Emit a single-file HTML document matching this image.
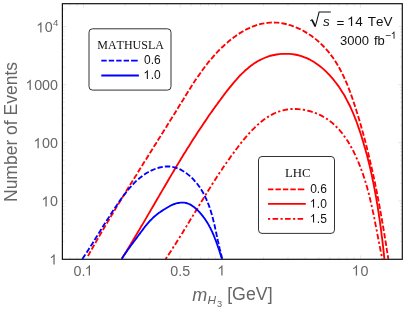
<!DOCTYPE html>
<html><head><meta charset="utf-8"><title>plot</title>
<style>
html,body{margin:0;padding:0;background:#fff;}
body{width:407px;height:309px;overflow:hidden;}
svg{display:block;will-change:transform;}
text{font-family:"Liberation Sans",sans-serif;font-kerning:none;}
.ser{font-family:"Liberation Serif",serif;}
.g{fill:#666;}
.k{fill:#111;}
</style></head><body>
<svg width="407" height="309" viewBox="0 0 407 309">
<rect width="407" height="309" fill="#fff"/>
<g stroke="#d9d9d9" stroke-width="0.6" fill="none">
<line x1="83.4" y1="259.3" x2="83.4" y2="255.3"/>
<line x1="83.4" y1="3.7" x2="83.4" y2="7.7"/>
<line x1="180.2" y1="259.3" x2="180.2" y2="255.3"/>
<line x1="180.2" y1="3.7" x2="180.2" y2="7.7"/>
<line x1="221.9" y1="259.3" x2="221.9" y2="255.3"/>
<line x1="221.9" y1="3.7" x2="221.9" y2="7.7"/>
<line x1="360.4" y1="259.3" x2="360.4" y2="255.3"/>
<line x1="360.4" y1="3.7" x2="360.4" y2="7.7"/>
<line x1="125.1" y1="259.3" x2="125.1" y2="256.90000000000003"/>
<line x1="125.1" y1="3.7" x2="125.1" y2="6.1"/>
<line x1="149.5" y1="259.3" x2="149.5" y2="256.90000000000003"/>
<line x1="149.5" y1="3.7" x2="149.5" y2="6.1"/>
<line x1="166.8" y1="259.3" x2="166.8" y2="256.90000000000003"/>
<line x1="166.8" y1="3.7" x2="166.8" y2="6.1"/>
<line x1="191.2" y1="259.3" x2="191.2" y2="256.90000000000003"/>
<line x1="191.2" y1="3.7" x2="191.2" y2="6.1"/>
<line x1="200.4" y1="259.3" x2="200.4" y2="256.90000000000003"/>
<line x1="200.4" y1="3.7" x2="200.4" y2="6.1"/>
<line x1="208.5" y1="259.3" x2="208.5" y2="256.90000000000003"/>
<line x1="208.5" y1="3.7" x2="208.5" y2="6.1"/>
<line x1="215.6" y1="259.3" x2="215.6" y2="256.90000000000003"/>
<line x1="215.6" y1="3.7" x2="215.6" y2="6.1"/>
<line x1="263.6" y1="259.3" x2="263.6" y2="256.90000000000003"/>
<line x1="263.6" y1="3.7" x2="263.6" y2="6.1"/>
<line x1="288.0" y1="259.3" x2="288.0" y2="256.90000000000003"/>
<line x1="288.0" y1="3.7" x2="288.0" y2="6.1"/>
<line x1="305.3" y1="259.3" x2="305.3" y2="256.90000000000003"/>
<line x1="305.3" y1="3.7" x2="305.3" y2="6.1"/>
<line x1="318.7" y1="259.3" x2="318.7" y2="256.90000000000003"/>
<line x1="318.7" y1="3.7" x2="318.7" y2="6.1"/>
<line x1="329.7" y1="259.3" x2="329.7" y2="256.90000000000003"/>
<line x1="329.7" y1="3.7" x2="329.7" y2="6.1"/>
<line x1="338.9" y1="259.3" x2="338.9" y2="256.90000000000003"/>
<line x1="338.9" y1="3.7" x2="338.9" y2="6.1"/>
<line x1="347.0" y1="259.3" x2="347.0" y2="256.90000000000003"/>
<line x1="347.0" y1="3.7" x2="347.0" y2="6.1"/>
<line x1="354.1" y1="259.3" x2="354.1" y2="256.90000000000003"/>
<line x1="354.1" y1="3.7" x2="354.1" y2="6.1"/>
<line x1="70.0" y1="259.3" x2="70.0" y2="256.90000000000003"/>
<line x1="70.0" y1="3.7" x2="70.0" y2="6.1"/>
<line x1="77.1" y1="259.3" x2="77.1" y2="256.90000000000003"/>
<line x1="77.1" y1="3.7" x2="77.1" y2="6.1"/>
<line x1="62.4" y1="241.5" x2="64.8" y2="241.5"/>
<line x1="402.3" y1="241.5" x2="399.90000000000003" y2="241.5"/>
<line x1="62.4" y1="231.3" x2="64.8" y2="231.3"/>
<line x1="402.3" y1="231.3" x2="399.90000000000003" y2="231.3"/>
<line x1="62.4" y1="224.0" x2="64.8" y2="224.0"/>
<line x1="402.3" y1="224.0" x2="399.90000000000003" y2="224.0"/>
<line x1="62.4" y1="218.4" x2="64.8" y2="218.4"/>
<line x1="402.3" y1="218.4" x2="399.90000000000003" y2="218.4"/>
<line x1="62.4" y1="213.8" x2="64.8" y2="213.8"/>
<line x1="402.3" y1="213.8" x2="399.90000000000003" y2="213.8"/>
<line x1="62.4" y1="209.9" x2="64.8" y2="209.9"/>
<line x1="402.3" y1="209.9" x2="399.90000000000003" y2="209.9"/>
<line x1="62.4" y1="206.5" x2="64.8" y2="206.5"/>
<line x1="402.3" y1="206.5" x2="399.90000000000003" y2="206.5"/>
<line x1="62.4" y1="203.5" x2="64.8" y2="203.5"/>
<line x1="402.3" y1="203.5" x2="399.90000000000003" y2="203.5"/>
<line x1="62.4" y1="200.8" x2="66.4" y2="200.8"/>
<line x1="402.3" y1="200.8" x2="398.3" y2="200.8"/>
<line x1="62.4" y1="183.3" x2="64.8" y2="183.3"/>
<line x1="402.3" y1="183.3" x2="399.90000000000003" y2="183.3"/>
<line x1="62.4" y1="173.1" x2="64.8" y2="173.1"/>
<line x1="402.3" y1="173.1" x2="399.90000000000003" y2="173.1"/>
<line x1="62.4" y1="165.8" x2="64.8" y2="165.8"/>
<line x1="402.3" y1="165.8" x2="399.90000000000003" y2="165.8"/>
<line x1="62.4" y1="160.2" x2="64.8" y2="160.2"/>
<line x1="402.3" y1="160.2" x2="399.90000000000003" y2="160.2"/>
<line x1="62.4" y1="155.6" x2="64.8" y2="155.6"/>
<line x1="402.3" y1="155.6" x2="399.90000000000003" y2="155.6"/>
<line x1="62.4" y1="151.7" x2="64.8" y2="151.7"/>
<line x1="402.3" y1="151.7" x2="399.90000000000003" y2="151.7"/>
<line x1="62.4" y1="148.3" x2="64.8" y2="148.3"/>
<line x1="402.3" y1="148.3" x2="399.90000000000003" y2="148.3"/>
<line x1="62.4" y1="145.4" x2="64.8" y2="145.4"/>
<line x1="402.3" y1="145.4" x2="399.90000000000003" y2="145.4"/>
<line x1="62.4" y1="142.7" x2="66.4" y2="142.7"/>
<line x1="402.3" y1="142.7" x2="398.3" y2="142.7"/>
<line x1="62.4" y1="125.2" x2="64.8" y2="125.2"/>
<line x1="402.3" y1="125.2" x2="399.90000000000003" y2="125.2"/>
<line x1="62.4" y1="115.0" x2="64.8" y2="115.0"/>
<line x1="402.3" y1="115.0" x2="399.90000000000003" y2="115.0"/>
<line x1="62.4" y1="107.7" x2="64.8" y2="107.7"/>
<line x1="402.3" y1="107.7" x2="399.90000000000003" y2="107.7"/>
<line x1="62.4" y1="102.1" x2="64.8" y2="102.1"/>
<line x1="402.3" y1="102.1" x2="399.90000000000003" y2="102.1"/>
<line x1="62.4" y1="97.5" x2="64.8" y2="97.5"/>
<line x1="402.3" y1="97.5" x2="399.90000000000003" y2="97.5"/>
<line x1="62.4" y1="93.6" x2="64.8" y2="93.6"/>
<line x1="402.3" y1="93.6" x2="399.90000000000003" y2="93.6"/>
<line x1="62.4" y1="90.2" x2="64.8" y2="90.2"/>
<line x1="402.3" y1="90.2" x2="399.90000000000003" y2="90.2"/>
<line x1="62.4" y1="87.2" x2="64.8" y2="87.2"/>
<line x1="402.3" y1="87.2" x2="399.90000000000003" y2="87.2"/>
<line x1="62.4" y1="84.6" x2="66.4" y2="84.6"/>
<line x1="402.3" y1="84.6" x2="398.3" y2="84.6"/>
<line x1="62.4" y1="67.0" x2="64.8" y2="67.0"/>
<line x1="402.3" y1="67.0" x2="399.90000000000003" y2="67.0"/>
<line x1="62.4" y1="56.8" x2="64.8" y2="56.8"/>
<line x1="402.3" y1="56.8" x2="399.90000000000003" y2="56.8"/>
<line x1="62.4" y1="49.5" x2="64.8" y2="49.5"/>
<line x1="402.3" y1="49.5" x2="399.90000000000003" y2="49.5"/>
<line x1="62.4" y1="43.9" x2="64.8" y2="43.9"/>
<line x1="402.3" y1="43.9" x2="399.90000000000003" y2="43.9"/>
<line x1="62.4" y1="39.3" x2="64.8" y2="39.3"/>
<line x1="402.3" y1="39.3" x2="399.90000000000003" y2="39.3"/>
<line x1="62.4" y1="35.4" x2="64.8" y2="35.4"/>
<line x1="402.3" y1="35.4" x2="399.90000000000003" y2="35.4"/>
<line x1="62.4" y1="32.0" x2="64.8" y2="32.0"/>
<line x1="402.3" y1="32.0" x2="399.90000000000003" y2="32.0"/>
<line x1="62.4" y1="29.1" x2="64.8" y2="29.1"/>
<line x1="402.3" y1="29.1" x2="399.90000000000003" y2="29.1"/>
<line x1="62.4" y1="26.4" x2="66.4" y2="26.4"/>
<line x1="402.3" y1="26.4" x2="398.3" y2="26.4"/>
<line x1="62.4" y1="8.9" x2="64.8" y2="8.9"/>
<line x1="402.3" y1="8.9" x2="399.90000000000003" y2="8.9"/>
</g>
<clipPath id="c"><rect x="62.4" y="3.7" width="339.90000000000003" height="255.60000000000002"/></clipPath>
<g fill="none" stroke-width="1.85" clip-path="url(#c)">
<path d="M87.9,256.0 L89.3,253.6 L90.6,251.3 L91.9,248.9 L93.3,246.6 L94.6,244.2 L96.0,241.9 L97.3,239.5 L98.7,237.2 L100.0,234.9 L101.4,232.5 L102.8,230.2 L104.1,227.9 L105.5,225.6 L106.9,223.2 L108.2,220.9 L109.6,218.6 L111.0,216.3 L112.4,214.0 L113.8,211.7 L115.1,209.4 L116.5,207.1 L117.9,204.8 L119.3,202.5 L120.7,200.2 L122.1,197.9 L123.5,195.7 L124.9,193.4 L126.3,191.1 L127.7,188.8 L129.1,186.5 L130.5,184.3 L131.9,182.0 L133.3,179.7 L134.7,177.4 L136.2,175.2 L137.6,172.9 L139.0,170.6 L140.4,168.3 L141.8,166.1 L143.2,163.8 L144.6,161.5 L146.1,159.3 L147.5,157.0 L148.9,154.7 L150.3,152.4 L151.7,150.2 L153.2,147.9 L154.6,145.6 L156.0,143.4 L157.4,141.1 L158.8,138.8 L160.3,136.5 L161.7,134.2 L163.1,132.0 L164.5,129.7 L166.0,127.4 L167.4,125.1 L168.8,122.8 L170.2,120.6 L171.6,118.3 L173.1,116.0 L174.5,113.7 L175.9,111.4 L177.3,109.1 L178.7,106.8 L180.1,104.5 L181.5,102.2 L183.0,99.9 L184.4,97.6 L185.8,95.3 L187.2,93.0 L188.7,90.7 L190.1,88.4 L191.6,86.1 L193.0,83.8 L194.5,81.6 L196.0,79.3 L197.5,77.1 L199.1,74.9 L200.6,72.7 L202.2,70.5 L203.8,68.3 L205.4,66.2 L207.0,64.0 L208.7,61.9 L210.4,59.9 L212.2,57.8 L213.9,55.8 L215.7,53.8 L217.5,51.9 L219.4,49.9 L221.3,48.0 L223.3,46.2 L225.2,44.4 L227.3,42.6 L229.3,40.8 L231.5,39.1 L233.6,37.5 L235.8,35.9 L238.1,34.3 L240.3,32.9 L242.7,31.5 L245.0,30.1 L247.4,28.9 L249.9,27.8 L252.3,26.7 L254.8,25.8 L257.3,24.9 L259.9,24.2 L262.4,23.6 L265.0,23.2 L267.6,22.8 L270.2,22.6 L272.8,22.5 L275.4,22.6 L278.0,22.7 L280.6,23.0 L283.2,23.5 L285.8,24.0 L288.3,24.7 L290.9,25.4 L293.4,26.3 L295.9,27.3 L298.3,28.3 L300.8,29.5 L303.2,30.7 L305.5,32.1 L307.8,33.5 L310.1,35.0 L312.3,36.6 L314.5,38.2 L316.6,39.9 L318.7,41.7 L320.7,43.6 L322.7,45.5 L324.5,47.4 L326.3,49.4 L328.1,51.4 L329.8,53.5 L331.4,55.6 L333.0,57.8 L334.5,60.0 L335.9,62.2 L337.3,64.5 L338.7,66.8 L340.0,69.2 L341.2,71.5 L342.4,73.9 L343.6,76.3 L344.7,78.8 L345.8,81.3 L346.9,83.7 L347.9,86.2 L348.9,88.8 L349.9,91.3 L350.8,93.9 L351.7,96.4 L352.6,99.0 L353.5,101.6 L354.3,104.1 L355.2,106.7 L356.0,109.3 L356.8,111.9 L357.6,114.5 L358.4,117.1 L359.2,119.7 L359.9,122.3 L360.7,124.8 L361.4,127.4 L362.1,130.0 L362.9,132.6 L363.6,135.2 L364.3,137.8 L365.0,140.4 L365.6,143.0 L366.3,145.6 L367.0,148.2 L367.6,150.8 L368.3,153.4 L368.9,156.0 L369.5,158.6 L370.1,161.2 L370.7,163.8 L371.3,166.4 L371.9,169.0 L372.5,171.6 L373.1,174.2 L373.6,176.8 L374.2,179.4 L374.8,182.0 L375.3,184.7 L375.8,187.3 L376.4,189.9 L376.9,192.5 L377.4,195.1 L377.9,197.8 L378.4,200.4 L378.9,203.0 L379.4,205.7 L379.9,208.3 L380.4,210.9 L380.8,213.6 L381.3,216.2 L381.8,218.9 L382.2,221.5 L382.7,224.2 L383.1,226.8 L383.6,229.5 L384.0,232.1 L384.5,234.8 L384.9,237.5 L385.3,240.1 L385.8,242.8 L386.2,245.5 L386.6,248.2 L387.0,250.8 L387.4,253.5 L387.9,256.2 L388.3,258.9" stroke="#f00" stroke-dasharray="5.4 2.1"/>
<path d="M121.8,258.7 L123.2,256.5 L124.6,254.2 L126.0,252.0 L127.4,249.7 L128.7,247.5 L130.1,245.3 L131.4,243.0 L132.8,240.8 L134.1,238.5 L135.4,236.3 L136.8,234.1 L138.1,231.8 L139.4,229.6 L140.7,227.3 L142.1,225.1 L143.4,222.9 L144.7,220.6 L146.0,218.4 L147.3,216.1 L148.6,213.9 L149.9,211.7 L151.2,209.4 L152.5,207.2 L153.8,205.0 L155.1,202.7 L156.4,200.5 L157.7,198.3 L159.0,196.1 L160.3,193.8 L161.6,191.6 L162.9,189.4 L164.2,187.2 L165.5,185.0 L166.8,182.7 L168.1,180.5 L169.4,178.3 L170.7,176.1 L172.0,173.9 L173.3,171.7 L174.6,169.5 L175.9,167.3 L177.3,165.1 L178.6,162.9 L179.9,160.7 L181.2,158.5 L182.6,156.3 L183.9,154.1 L185.3,151.9 L186.6,149.7 L188.0,147.5 L189.4,145.4 L190.7,143.2 L192.1,141.0 L193.5,138.8 L194.9,136.7 L196.3,134.5 L197.7,132.3 L199.1,130.2 L200.6,128.0 L202.0,125.9 L203.4,123.7 L204.9,121.6 L206.4,119.4 L207.8,117.3 L209.3,115.1 L210.8,113.0 L212.3,110.9 L213.8,108.7 L215.3,106.6 L216.9,104.5 L218.4,102.4 L220.0,100.3 L221.6,98.1 L223.1,96.0 L224.7,93.9 L226.3,91.8 L228.0,89.7 L229.6,87.7 L231.3,85.6 L232.9,83.6 L234.6,81.6 L236.4,79.6 L238.1,77.6 L239.9,75.7 L241.7,73.9 L243.6,72.1 L245.4,70.3 L247.4,68.7 L249.3,67.0 L251.3,65.5 L253.4,64.0 L255.5,62.6 L257.6,61.3 L259.8,60.1 L262.1,59.0 L264.4,58.0 L266.7,57.0 L269.1,56.2 L271.6,55.5 L274.1,55.0 L276.6,54.5 L279.2,54.1 L281.8,53.9 L284.4,53.8 L287.0,53.8 L289.6,53.9 L292.1,54.1 L294.7,54.5 L297.2,55.0 L299.7,55.6 L302.1,56.4 L304.5,57.3 L306.9,58.2 L309.2,59.3 L311.4,60.5 L313.6,61.8 L315.8,63.2 L317.9,64.7 L320.0,66.3 L322.0,67.9 L324.0,69.6 L325.9,71.4 L327.8,73.3 L329.6,75.2 L331.3,77.1 L333.1,79.1 L334.7,81.2 L336.3,83.3 L337.9,85.4 L339.4,87.5 L340.8,89.7 L342.2,91.9 L343.6,94.1 L344.9,96.3 L346.1,98.6 L347.3,100.9 L348.5,103.2 L349.7,105.5 L350.8,107.8 L351.8,110.2 L352.9,112.6 L353.9,115.0 L354.8,117.4 L355.8,119.8 L356.7,122.2 L357.6,124.7 L358.4,127.1 L359.3,129.6 L360.1,132.0 L360.9,134.5 L361.7,137.0 L362.4,139.4 L363.2,141.9 L363.9,144.4 L364.6,146.9 L365.4,149.4 L366.0,151.8 L366.7,154.3 L367.4,156.8 L368.0,159.3 L368.6,161.8 L369.3,164.4 L369.9,166.9 L370.4,169.4 L371.0,171.9 L371.6,174.4 L372.1,176.9 L372.6,179.5 L373.2,182.0 L373.7,184.5 L374.2,187.1 L374.7,189.6 L375.1,192.1 L375.6,194.7 L376.1,197.2 L376.5,199.8 L376.9,202.3 L377.4,204.9 L377.8,207.4 L378.2,210.0 L378.6,212.5 L378.9,215.1 L379.3,217.7 L379.7,220.2 L380.1,222.8 L380.4,225.4 L380.8,227.9 L381.1,230.5 L381.4,233.1 L381.7,235.6 L382.1,238.2 L382.4,240.8 L382.7,243.4 L383.0,245.9 L383.3,248.5 L383.6,251.1 L383.8,253.7 L384.1,256.2 L384.4,258.8" stroke="#f00"/>
<path d="M165.7,258.9 L167.0,257.0 L168.2,255.1 L169.5,253.3 L170.7,251.4 L171.9,249.5 L173.1,247.6 L174.3,245.8 L175.5,243.9 L176.7,242.0 L177.9,240.1 L179.1,238.3 L180.2,236.4 L181.4,234.5 L182.6,232.7 L183.7,230.8 L184.8,228.9 L186.0,227.1 L187.1,225.2 L188.3,223.3 L189.4,221.5 L190.5,219.6 L191.7,217.8 L192.8,215.9 L193.9,214.1 L195.0,212.2 L196.1,210.4 L197.3,208.5 L198.4,206.7 L199.5,204.8 L200.6,203.0 L201.8,201.1 L202.9,199.3 L204.0,197.4 L205.2,195.6 L206.3,193.7 L207.4,191.9 L208.6,190.1 L209.7,188.2 L210.9,186.4 L212.0,184.6 L213.2,182.7 L214.4,180.9 L215.6,179.1 L216.7,177.2 L217.9,175.4 L219.1,173.6 L220.3,171.8 L221.6,170.0 L222.8,168.1 L224.0,166.3 L225.3,164.5 L226.5,162.7 L227.8,160.9 L229.1,159.1 L230.3,157.3 L231.6,155.5 L233.0,153.7 L234.3,151.9 L235.6,150.1 L237.0,148.3 L238.3,146.5 L239.7,144.7 L241.1,142.9 L242.5,141.2 L243.9,139.4 L245.4,137.7 L246.9,135.9 L248.3,134.2 L249.8,132.6 L251.4,130.9 L252.9,129.3 L254.5,127.8 L256.1,126.2 L257.7,124.8 L259.3,123.3 L261.0,121.9 L262.7,120.6 L264.4,119.3 L266.1,118.1 L267.9,116.9 L269.7,115.8 L271.5,114.8 L273.3,113.9 L275.2,113.0 L277.1,112.2 L279.1,111.5 L281.1,110.8 L283.1,110.3 L285.1,109.8 L287.2,109.5 L289.3,109.2 L291.5,109.0 L293.7,109.0 L295.9,109.0 L298.1,109.1 L300.3,109.3 L302.5,109.6 L304.8,110.0 L307.0,110.5 L309.2,111.0 L311.4,111.6 L313.6,112.3 L315.7,113.1 L317.8,114.0 L319.8,114.9 L321.8,115.9 L323.8,117.0 L325.7,118.1 L327.5,119.3 L329.3,120.6 L331.0,121.9 L332.7,123.3 L334.3,124.8 L335.9,126.3 L337.4,127.8 L338.9,129.4 L340.3,131.0 L341.7,132.7 L343.0,134.4 L344.3,136.2 L345.6,137.9 L346.8,139.8 L348.0,141.6 L349.1,143.5 L350.2,145.4 L351.3,147.3 L352.4,149.3 L353.4,151.2 L354.3,153.2 L355.3,155.2 L356.2,157.2 L357.1,159.2 L358.0,161.2 L358.8,163.2 L359.6,165.2 L360.4,167.3 L361.2,169.3 L362.0,171.4 L362.7,173.4 L363.4,175.5 L364.1,177.6 L364.8,179.7 L365.4,181.8 L366.0,183.8 L366.7,185.9 L367.3,188.1 L367.8,190.2 L368.4,192.3 L369.0,194.4 L369.5,196.5 L370.0,198.7 L370.5,200.8 L371.0,202.9 L371.5,205.1 L372.0,207.2 L372.5,209.3 L372.9,211.5 L373.4,213.6 L373.8,215.8 L374.3,217.9 L374.7,220.1 L375.1,222.3 L375.5,224.4 L376.0,226.6 L376.4,228.7 L376.8,230.9 L377.2,233.0 L377.6,235.2 L378.0,237.3 L378.4,239.5 L378.8,241.6 L379.3,243.8 L379.7,245.9 L380.1,248.1 L380.5,250.2 L380.9,252.4 L381.4,254.5 L381.8,256.6 L382.3,258.8" stroke="#f00" stroke-dasharray="2.2 2.35 5.6 2.35"/>
<path d="M82.4,258.9 L83.5,257.2 L84.7,255.4 L85.8,253.7 L87.0,251.9 L88.1,250.2 L89.2,248.4 L90.3,246.7 L91.5,244.9 L92.6,243.2 L93.7,241.5 L94.7,239.7 L95.8,238.0 L96.9,236.2 L98.0,234.5 L99.1,232.7 L100.2,231.0 L101.2,229.3 L102.3,227.5 L103.4,225.8 L104.5,224.1 L105.6,222.3 L106.7,220.6 L107.8,218.9 L108.9,217.2 L110.0,215.4 L111.1,213.7 L112.2,212.0 L113.3,210.3 L114.5,208.6 L115.6,206.9 L116.8,205.2 L117.9,203.5 L119.1,201.8 L120.3,200.1 L121.5,198.4 L122.8,196.7 L124.0,195.0 L125.3,193.4 L126.6,191.7 L127.9,190.1 L129.2,188.5 L130.6,186.9 L132.0,185.4 L133.4,183.9 L134.8,182.4 L136.3,180.9 L137.9,179.6 L139.5,178.2 L141.1,176.9 L142.7,175.7 L144.4,174.5 L146.2,173.3 L148.0,172.3 L149.8,171.3 L151.7,170.3 L153.7,169.5 L155.6,168.7 L157.6,168.1 L159.6,167.5 L161.6,167.1 L163.6,166.7 L165.6,166.5 L167.5,166.5 L169.5,166.5 L171.4,166.8 L173.3,167.1 L175.2,167.6 L177.1,168.2 L178.9,168.9 L180.7,169.7 L182.5,170.7 L184.2,171.7 L185.9,172.8 L187.5,174.1 L189.1,175.4 L190.7,176.7 L192.2,178.2 L193.6,179.7 L195.0,181.3 L196.4,182.9 L197.7,184.5 L199.0,186.2 L200.2,188.0 L201.3,189.7 L202.4,191.5 L203.4,193.3 L204.4,195.2 L205.3,197.0 L206.2,198.9 L207.0,200.8 L207.8,202.7 L208.6,204.7 L209.3,206.6 L210.0,208.6 L210.6,210.5 L211.2,212.5 L211.8,214.5 L212.4,216.5 L212.9,218.6 L213.4,220.6 L213.9,222.6 L214.4,224.6 L214.9,226.7 L215.3,228.7 L215.8,230.8 L216.2,232.8 L216.6,234.8 L217.1,236.9 L217.5,238.9 L217.9,240.9 L218.4,242.9 L218.8,244.9 L219.3,246.9 L219.7,248.9 L220.2,250.8 L220.7,252.8 L221.2,254.7 L221.7,256.7 L222.3,258.6" stroke="#00f" stroke-dasharray="5.4 2.1"/>
<path d="M121.6,258.8 L122.2,258.0 L122.7,257.2 L123.3,256.3 L123.8,255.5 L124.4,254.7 L125.0,253.9 L125.5,253.1 L126.1,252.3 L126.7,251.4 L127.2,250.6 L127.8,249.8 L128.4,249.0 L129.0,248.2 L129.6,247.4 L130.2,246.6 L130.7,245.8 L131.3,245.0 L131.9,244.2 L132.5,243.4 L133.1,242.6 L133.7,241.8 L134.3,241.0 L134.9,240.2 L135.5,239.4 L136.1,238.6 L136.7,237.9 L137.2,237.1 L137.8,236.3 L138.4,235.5 L139.0,234.7 L139.6,233.9 L140.2,233.1 L140.8,232.3 L141.4,231.5 L142.0,230.7 L142.6,229.9 L143.2,229.1 L143.8,228.3 L144.4,227.5 L145.0,226.7 L145.6,226.0 L146.3,225.2 L146.9,224.4 L147.5,223.7 L148.2,222.9 L148.8,222.2 L149.5,221.4 L150.1,220.7 L150.8,220.0 L151.5,219.3 L152.2,218.6 L152.9,217.9 L153.6,217.2 L154.4,216.5 L155.1,215.9 L155.9,215.3 L156.7,214.6 L157.4,214.0 L158.2,213.4 L159.0,212.8 L159.9,212.3 L160.7,211.7 L161.5,211.1 L162.3,210.6 L163.2,210.0 L164.0,209.5 L164.9,209.0 L165.7,208.5 L166.5,208.0 L167.4,207.5 L168.2,207.0 L169.1,206.5 L169.9,206.0 L170.8,205.5 L171.7,205.1 L172.6,204.7 L173.5,204.3 L174.4,204.0 L175.4,203.7 L176.3,203.4 L177.3,203.2 L178.3,203.0 L179.3,202.8 L180.3,202.7 L181.3,202.6 L182.3,202.6 L183.3,202.6 L184.3,202.7 L185.3,202.8 L186.3,203.0 L187.2,203.3 L188.1,203.6 L189.0,204.0 L189.9,204.4 L190.8,204.9 L191.6,205.4 L192.4,205.9 L193.2,206.5 L194.0,207.1 L194.8,207.7 L195.6,208.4 L196.3,209.1 L197.1,209.8 L197.8,210.4 L198.5,211.2 L199.2,211.9 L199.9,212.6 L200.5,213.3 L201.2,214.1 L201.8,214.9 L202.4,215.6 L203.0,216.4 L203.6,217.2 L204.2,218.0 L204.8,218.8 L205.3,219.6 L205.9,220.4 L206.4,221.3 L207.0,222.1 L207.5,222.9 L208.0,223.8 L208.5,224.6 L209.0,225.5 L209.4,226.4 L209.9,227.3 L210.4,228.1 L210.8,229.0 L211.2,229.9 L211.7,230.8 L212.1,231.7 L212.5,232.6 L212.9,233.5 L213.3,234.4 L213.7,235.4 L214.1,236.3 L214.5,237.2 L214.8,238.1 L215.2,239.1 L215.6,240.0 L215.9,240.9 L216.3,241.9 L216.6,242.8 L216.9,243.8 L217.3,244.7 L217.6,245.6 L217.9,246.6 L218.2,247.5 L218.6,248.5 L218.9,249.4 L219.2,250.3 L219.5,251.3 L219.8,252.2 L220.1,253.2 L220.4,254.1 L220.7,255.0 L221.0,256.0 L221.3,256.9 L221.6,257.8 L221.9,258.8" stroke="#00f"/>
</g>
<rect x="62.4" y="3.7" width="339.90000000000003" height="255.60000000000002" fill="none" stroke="#111" stroke-width="1.2"/>

<g id="labels">
<!-- MATHUSLA legend -->
<rect x="89" y="28.8" width="82" height="61.3" rx="3.5" ry="3.5" fill="#fff" stroke="#333" stroke-width="1"/>
<text class="ser k" x="130.6" y="48.5" font-size="12" text-anchor="middle">MATHUSLA</text>
<line x1="101.3" y1="60.6" x2="137.7" y2="60.6" stroke="#00f" stroke-width="1.85" stroke-dasharray="5.4 2.05 5.4 2.05 5.4 2.05 5.4 2.05 6.6 50"/>
<line x1="101.3" y1="75.5" x2="138.9" y2="75.5" stroke="#00f" stroke-width="1.85"/>
<text class="k" x="144" y="64" font-size="12">0.6</text>
<path class="k" d="M763 0H583V1147Q518 1085 412.5 1023T223 930V1104Q373 1174.5 485.5 1275T645 1472H763V0Z" transform="translate(143.40,79.0) scale(0.00586,-0.00586)"/><text class="k" x="150.67" y="79.0" font-size="12.0">.0</text>

<!-- LHC legend -->
<rect x="258.5" y="156.5" width="76" height="76.9" rx="3.5" ry="3.5" fill="#fff" stroke="#333" stroke-width="1"/>
<text class="ser k" x="297.8" y="177.2" font-size="12.8" text-anchor="middle">LHC</text>
<line x1="268" y1="189.3" x2="304.3" y2="189.3" stroke="#f00" stroke-width="1.85" stroke-dasharray="5.4 2.05 5.4 2.05 5.4 2.05 5.4 2.05 6.6 50"/>
<line x1="268" y1="203.8" x2="305.8" y2="203.8" stroke="#f00" stroke-width="1.85"/>
<line x1="268" y1="218.9" x2="303.4" y2="218.9" stroke="#f00" stroke-width="1.85" stroke-dasharray="2.2 2.35 5.6 2.35"/>
<text class="k" x="310.2" y="192.8" font-size="12">0.6</text>
<path class="k" d="M763 0H583V1147Q518 1085 412.5 1023T223 930V1104Q373 1174.5 485.5 1275T645 1472H763V0Z" transform="translate(309.60,207.6) scale(0.00586,-0.00586)"/><text class="k" x="316.87" y="207.6" font-size="12.0">.0</text>
<path class="k" d="M763 0H583V1147Q518 1085 412.5 1023T223 930V1104Q373 1174.5 485.5 1275T645 1472H763V0Z" transform="translate(309.60,222.6) scale(0.00586,-0.00586)"/><text class="k" x="316.87" y="222.6" font-size="12.0">.5</text>

<!-- y tick labels -->
<path class="g" d="M763 0H583V1147Q518 1085 412.5 1023T223 930V1104Q373 1174.5 485.5 1275T645 1472H763V0Z" transform="translate(36.18,32.4) scale(0.00698,-0.00698)"/><text class="g" x="44.85" y="32.4" font-size="14.3">0</text>
<text class="g" x="53" y="25.9" font-size="9.6">4</text>
<path class="g" d="M763 0H583V1147Q518 1085 412.5 1023T223 930V1104Q373 1174.5 485.5 1275T645 1472H763V0Z" transform="translate(25.48,90.0) scale(0.00698,-0.00698)"/><text class="g" x="34.15" y="90.0" font-size="14.3">000</text>
<path class="g" d="M763 0H583V1147Q518 1085 412.5 1023T223 930V1104Q373 1174.5 485.5 1275T645 1472H763V0Z" transform="translate(33.43,148.2) scale(0.00698,-0.00698)"/><text class="g" x="42.10" y="148.2" font-size="14.3">00</text>
<path class="g" d="M763 0H583V1147Q518 1085 412.5 1023T223 930V1104Q373 1174.5 485.5 1275T645 1472H763V0Z" transform="translate(41.38,206.4) scale(0.00698,-0.00698)"/><text class="g" x="50.05" y="206.4" font-size="14.3">0</text>
<path class="g" d="M763 0H583V1147Q518 1085 412.5 1023T223 930V1104Q373 1174.5 485.5 1275T645 1472H763V0Z" transform="translate(49.33,264.6) scale(0.00698,-0.00698)"/>
<!-- x tick labels -->
<text class="g" x="73.46" y="275.6" font-size="14.3">0.</text><path class="g" d="M763 0H583V1147Q518 1085 412.5 1023T223 930V1104Q373 1174.5 485.5 1275T645 1472H763V0Z" transform="translate(84.67,275.6) scale(0.00698,-0.00698)"/>
<text class="g" x="180.2" y="275.6" font-size="14.3" text-anchor="middle">0.5</text>
<path class="g" d="M763 0H583V1147Q518 1085 412.5 1023T223 930V1104Q373 1174.5 485.5 1275T645 1472H763V0Z" transform="translate(217.21,275.6) scale(0.00698,-0.00698)"/>
<path class="g" d="M763 0H583V1147Q518 1085 412.5 1023T223 930V1104Q373 1174.5 485.5 1275T645 1472H763V0Z" transform="translate(351.73,275.6) scale(0.00698,-0.00698)"/><text class="g" x="360.40" y="275.6" font-size="14.3">0</text>
<!-- axis labels -->
<text class="g" transform="translate(16.8,202.0) rotate(-90)" font-size="17.5">Number of Events</text>
<text class="g" x="192.2" y="300.6" font-size="18" font-style="italic">m</text>
<text class="g" x="207.6" y="304.3" font-size="11.8" font-style="italic">H</text>
<text class="g" x="216.9" y="306.7" font-size="9.2">3</text>
<text class="g" x="227.2" y="300.4" font-size="17.5" textLength="45.4" lengthAdjust="spacingAndGlyphs">[GeV]</text>
<!-- annotation -->
<path d="M310.2,20.8 L312.0,19.7" fill="none" stroke="#111" stroke-width="0.9"/>
<path d="M311.9,19.6 L315.2,26.3" fill="none" stroke="#111" stroke-width="1.8"/>
<path d="M315.3,26.6 L319.1,12.0 L330.8,12.0" fill="none" stroke="#111" stroke-width="1.05"/>
<text class="k" x="322.9" y="26.1" font-size="13.5" font-style="italic">s</text>
<text class="k" x="336.6" y="26.9" font-size="13.5">=</text>
<path class="k" d="M763 0H583V1147Q518 1085 412.5 1023T223 930V1104Q373 1174.5 485.5 1275T645 1472H763V0Z" transform="translate(347.12,26.1) scale(0.00659,-0.00659)"/><text class="k" x="355.31" y="26.1" font-size="13.5">4</text>
<text class="k" x="367.7" y="26.1" font-size="13.5">TeV</text>
<text class="k" x="340.1" y="44.8" font-size="13">3000</text>
<text class="k" x="373.9" y="44.8" font-size="13">fb</text>
<text class="k" x="385.40" y="38.8" font-size="10.0">−</text><path class="k" d="M763 0H583V1147Q518 1085 412.5 1023T223 930V1104Q373 1174.5 485.5 1275T645 1472H763V0Z" transform="translate(390.74,38.8) scale(0.00488,-0.00488)"/>
</g>
</svg>
</body></html>
